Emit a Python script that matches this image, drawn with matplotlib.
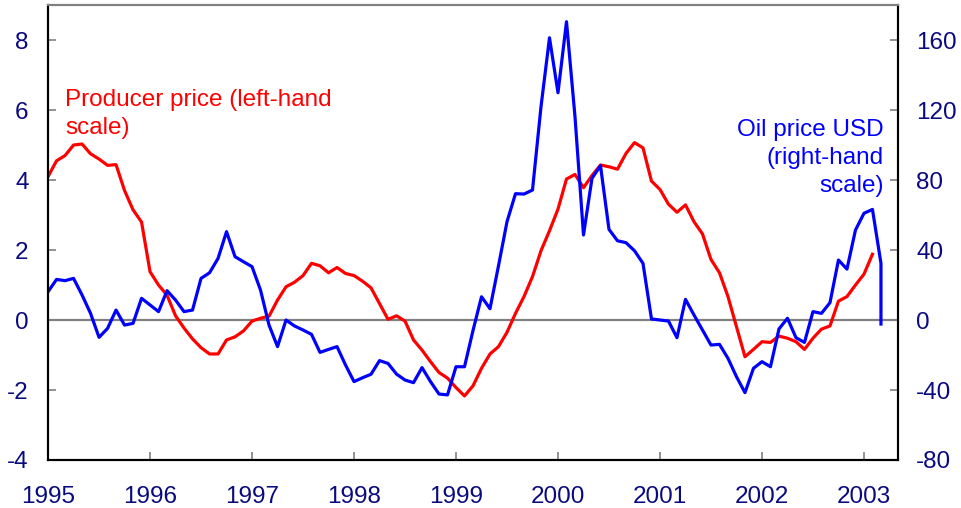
import numpy as np
import matplotlib.pyplot as plt

plt.rcParams['font.family'] = ['Liberation Sans', 'DejaVu Sans']
plt.rcParams['axes.unicode_minus'] = False

# 1. Monthly data, Jan 1995 onwards
producer_price = [
    4.1, 4.55, 4.7, 5.0, 5.03, 4.75, 4.6, 4.42, 4.44, 3.7, 3.15, 2.8,          # 1995
    1.38, 1.0, 0.71, 0.12, -0.23, -0.54, -0.79, -0.97, -0.97, -0.57, -0.48, -0.31,  # 1996
    -0.03, 0.05, 0.11, 0.57, 0.95, 1.08, 1.27, 1.62, 1.55, 1.35, 1.5, 1.33,  # 1997
    1.27, 1.11, 0.92, 0.47, 0.02, 0.12, -0.03, -0.57, -0.86, -1.19, -1.5, -1.66,  # 1998
    -1.93, -2.17, -1.88, -1.38, -0.97, -0.76, -0.35, 0.19, 0.67, 1.24, 1.98, 2.55,  # 1999
    3.17, 4.03, 4.16, 3.78, 4.13, 4.43, 4.38, 4.31, 4.76, 5.07, 4.92, 3.97,  # 2000
    3.73, 3.31, 3.08, 3.29, 2.81, 2.46, 1.73, 1.35, 0.67, -0.19, -1.05, -0.84,  # 2001
    -0.62, -0.64, -0.46, -0.52, -0.62, -0.84, -0.52, -0.26, -0.17, 0.54, 0.67, 1.0,  # 2002
    1.31, 1.88,                                                                # 2003
]

oil_price = [
    16.2, 23.2, 22.5, 23.8, 14.3, 3.8, -9.9, -4.8, 5.7, -2.9, -1.9, 12.4,     # 1995
    8.6, 4.8, 16.8, 11.4, 4.8, 5.7, 23.8, 27.0, 35.2, 50.5, 36.2, 33.3,       # 1996
    30.5, 17.1, -2.9, -15.2, 0.0, -3.4, -5.7, -8.2, -18.5, -16.8, -15.2, -25.7,  # 1997
    -35.2, -33.0, -31.0, -23.2, -24.8, -30.9, -34.3, -35.8, -27.2, -35.2, -42.3, -42.8,  # 1998
    -26.7, -26.7, -6.0, 13.3, 6.5, 31.0, 56.2, 72.2, 72.0, 74.3, 121.9, 161.3,  # 1999
    129.9, 170.5, 116.2, 48.6, 81.0, 88.2, 51.8, 45.3, 44.2, 39.6, 32.4, 0.6,  # 2000
    0.0, -0.6, -10.1, 11.8, 2.9, -5.7, -14.3, -13.9, -21.9, -32.4, -41.5, -27.6,  # 2001
    -23.8, -26.7, -5.1, 1.0, -10.1, -12.8, 4.8, 3.8, 9.9, 34.3, 29.1, 51.4,  # 2002
    61.0, 63.2, 32.4,                                                          # 2003
]
oil_last = -2.3   # latest reading, same month as the final point

years = list(range(1995, 2004))

# 2. Build the x positions (decimal years)
x_pp = 1995 + np.arange(len(producer_price)) / 12
x_oil = 1995 + np.arange(len(oil_price)) / 12
x_oil = np.append(x_oil, x_oil[-1])
oil_vals = np.append(oil_price, oil_last)

navy = '#0a0a80'
grey = '#808080'

fig = plt.figure(figsize=(9.61, 5.08), dpi=100)
ax = fig.add_axes([0.0500, 0.0945, 0.8844, 0.8955])
ax2 = ax.twinx()

ax.axhline(0, color=grey, lw=1.6, zorder=1)
ax.plot(x_pp, producer_price, color='#ff0000', lw=2.3, zorder=3)
ax2.plot(x_oil, oil_vals, color='#0000ff', lw=2.3)

# 3. Axes, limits and ticks
ax.set_xlim(1995, 1995 + 100 / 12)
ax.set_ylim(-4, 9)
ax2.set_ylim(-80, 180)
ax.set_xticks(years)
ax.set_xticklabels([str(y) for y in years])
ax.set_yticks([-4, -2, 0, 2, 4, 6, 8])
ax2.set_yticks([-80, -40, 0, 40, 80, 120, 160])

for a in (ax, ax2):
    a.spines['top'].set_color(grey)
    a.spines['top'].set_linewidth(1.5)
    for s in ('left', 'right', 'bottom'):
        a.spines[s].set_linewidth(1.5)
        a.spines[s].set_color('black')

ax.tick_params(axis='y', direction='in', length=6, width=1.2, color=grey,
               labelsize=17.5, labelcolor=navy, pad=14)
ax.tick_params(axis='x', direction='in', length=6, width=1.2, color=grey,
               labelsize=17.5, labelcolor=navy, pad=19)
ax2.tick_params(axis='y', direction='in', length=6, width=1.2, color=grey,
                labelsize=17.5, labelcolor=navy, pad=13)

# 4. Labels on the chart
ax.text(0.02, 0.815, 'Producer price (left-hand\nscale)', transform=ax.transAxes,
        color='#ff0000', fontsize=17.5, ha='left', va='top', linespacing=1.35)
ax.text(0.983, 0.75, 'Oil price USD\n(right-hand\nscale)', transform=ax.transAxes,
        color='#0000ff', fontsize=17.5, ha='right', va='top', linespacing=1.35)

plt.savefig('out.png', dpi=100)
